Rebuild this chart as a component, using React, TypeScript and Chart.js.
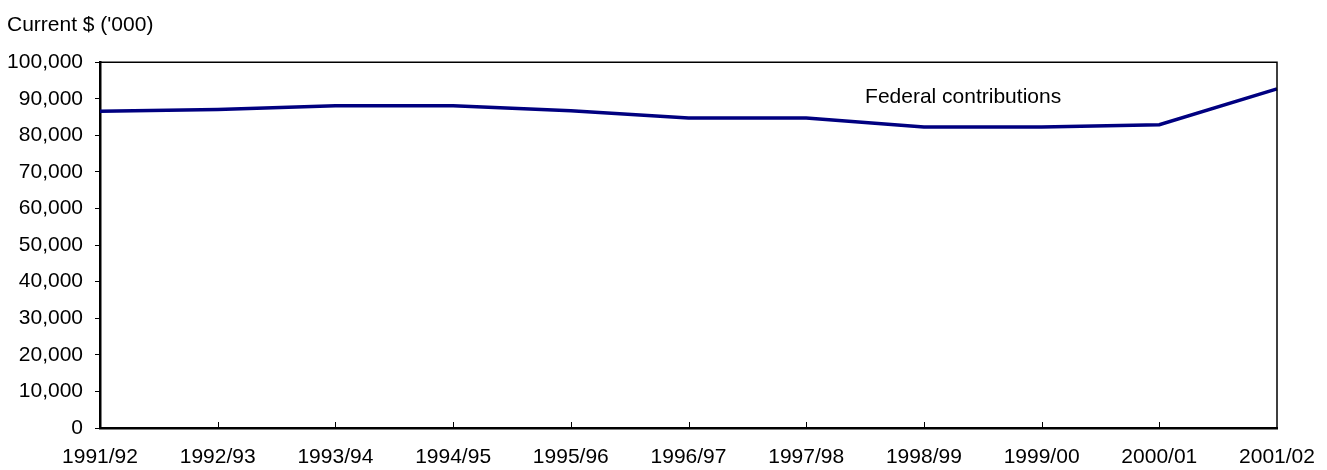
import React, { useEffect, useRef } from "react";
import { Chart, registerables } from "chart.js";

Chart.register(...registerables);

const categories = [
  "1991/92", "1992/93", "1993/94", "1994/95", "1995/96", "1996/97",
  "1997/98", "1998/99", "1999/00", "2000/01", "2001/02",
];
const federalContributions = [
  86600, 87100, 88100, 88100, 86700, 84750, 84750, 82300, 82300, 82900, 92700,
];
const yTitle = "Current $ ('000)";
const seriesLabel = "Federal contributions";
const labelAnchor = { index: 6.5, value: 90300 };

const FONT = "'Liberation Sans', Arial, sans-serif";
const FS = 21;

const boxPlugin = {
  id: "boxAndTicks",
  afterDatasetsDraw(chart: any) {
    const { ctx, chartArea, scales } = chart;
    ctx.save();
    ctx.strokeStyle = "#000";
    ctx.lineWidth = 1.5;
    ctx.beginPath();
    ctx.moveTo(chartArea.left, chartArea.top);
    ctx.lineTo(chartArea.right, chartArea.top);
    ctx.lineTo(chartArea.right, chartArea.bottom);
    ctx.stroke();
    // inward x tick marks
    ctx.lineWidth = 1;
    const x = scales.x;
    for (let i = 1; i < categories.length - 1; i++) {
      const px = Math.round(x.getPixelForTick(i)) + 0.5;
      ctx.beginPath();
      ctx.moveTo(px, chartArea.bottom);
      ctx.lineTo(px, chartArea.bottom - 6);
      ctx.stroke();
    }
    // series label
    const lx = x.getPixelForValue(labelAnchor.index);
    const ly = scales.y.getPixelForValue(labelAnchor.value);
    ctx.fillStyle = "#000";
    ctx.font = `${FS}px ${FONT}`;
    ctx.textAlign = "left";
    ctx.textBaseline = "middle";
    ctx.fillText(seriesLabel, lx, ly);
    ctx.restore();
  },
};

export default function App() {
  const ref = useRef<HTMLCanvasElement>(null);
  useEffect(() => {
    document.body.style.margin = "0";
    const chart = new Chart(ref.current!, {
      type: "line",
      data: {
        labels: categories,
        datasets: [
          {
            label: seriesLabel,
            data: federalContributions,
            borderColor: "#000080",
            backgroundColor: "#000080",
            borderWidth: 3.5,
            pointRadius: 0,
            tension: 0,
          },
        ],
      },
      options: {
        animation: false,
        responsive: false,
        layout: { padding: { left: 7, right: 50, top: 0, bottom: 0 } },
        plugins: {
          legend: { display: false },
          tooltip: { enabled: false },
          title: {
            display: true,
            text: yTitle,
            align: "start",
            color: "#000",
            font: { family: FONT, size: FS, weight: "normal" },
            padding: { top: 13, bottom: 24 },
          },
        },
        scales: {
          x: {
            offset: false,
            grid: { display: true, drawOnChartArea: false, drawTicks: false, color: "#000" },
            border: { display: true, color: "#000", width: 2.5 },
            ticks: {
              color: "#000",
              font: { family: FONT, size: FS },
              padding: 17,
              maxRotation: 0,
              autoSkip: false,
            },
            afterFit: (s: any) => {
              s.height = 42;
              s.paddingLeft = 0;
              s.paddingRight = 0;
            },
          },
          y: {
            min: 0,
            max: 100000,
            grid: { display: true, drawOnChartArea: false, drawTicks: true, tickLength: 5, color: "#000" },
            border: { display: true, color: "#000", width: 2.5 },
            ticks: {
              stepSize: 10000,
              color: "#000",
              font: { family: FONT, size: FS },
              padding: 12,
              callback: (v: any) => Number(v).toLocaleString("en-US"),
            },
            afterFit: (s: any) => {
              s.width = 93;
            },
          },
        },
      },
      plugins: [boxPlugin],
    });
    return () => chart.destroy();
  }, []);
  return (
    <div style={{ width: 1327, height: 470, background: "#fff" }}>
      <canvas ref={ref} width={1327} height={470} style={{ display: "block" }} />
    </div>
  );
}
